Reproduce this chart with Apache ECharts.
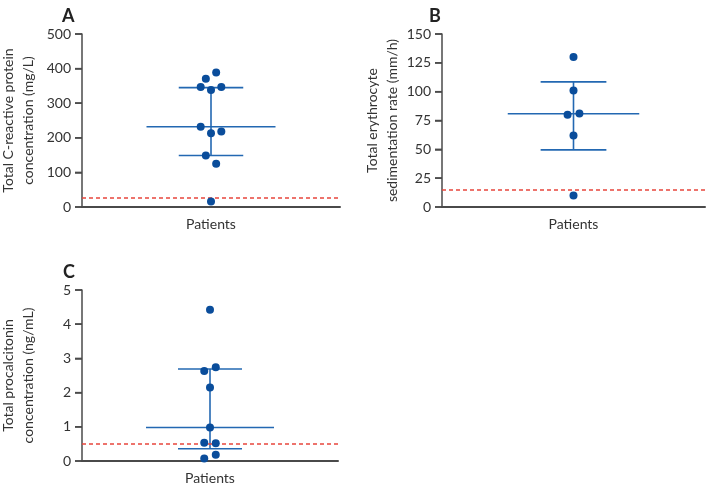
<!DOCTYPE html>
<html>
<head>
<meta charset="utf-8">
<script src="https://cdn.jsdelivr.net/npm/echarts@6/dist/echarts.min.js"></script>
<style>html,body{margin:0;padding:0;background:#fff}#c{width:708px;height:489px}</style>
</head>
<body>
<div id="c"></div>
<script>
// Panel A: C-reactive protein (mg/L)
const crpValues = [389, 371, 347, 338, 347, 232, 213, 218, 149, 125, 16];
const crpJitter = [0.04, -0.04, -0.08, 0, 0.08, -0.08, 0, 0.08, -0.04, 0.04, 0];
const crpSummary = [149, 232, 345]; // lower, median, upper
const crpRef = 28;
const crpTicks = [0, 500, 100];

// Panel B: erythrocyte sedimentation rate (mm/h)
const esrValues = [130, 101, 80, 81, 62, 10];
const esrJitter = [0, 0, -0.045, 0.045, 0, 0];
const esrSummary = [49.5, 80.8, 108.5];
const esrRef = 15;
const esrTicks = [0, 150, 25];

// Panel C: procalcitonin (ng/mL)
const pctValues = [4.42, 2.63, 2.74, 2.15, 0.98, 0.53, 0.52, 0.18, 0.07];
const pctJitter = [0, -0.045, 0.045, 0, 0, -0.045, 0.045, 0.045, -0.045];
const pctSummary = [0.36, 0.98, 2.69];
const pctRef = 0.5;
const pctTicks = [0, 5, 1];

const panelLetters = ['A', 'B', 'C'];
const yTitles = [
  'Total C-reactive protein\nconcentration (mg/L)',
  'Total erythrocyte\nsedimentation rate (mm/h)',
  'Total procalcitonin\nconcentration (ng/mL)'
];
const xTitle = 'Patients';

const FONT = 'Lato';
const DOT = '#0a4d9b';
const BAR = '#2368b2';
const RED = '#e8453c';
const AXIS = '#4a4a4a';
const CENTER = 1; // category position on the hidden x scale [0, 2]

const grids = [
  {left: 82, top: 34, width: 258, height: 173},
  {left: 442, top: 34, width: 263, height: 173},
  {left: 82, top: 290, width: 256, height: 171}
].map(g => Object.assign(g, {outerBoundsMode: 'none', containLabel: false}));
const nameGaps = [44, 36, 44];
const ticks = [crpTicks, esrTicks, pctTicks];
const sets = [
  [crpValues, crpJitter, crpSummary, crpRef],
  [esrValues, esrJitter, esrSummary, esrRef],
  [pctValues, pctJitter, pctSummary, pctRef]
];

const xAxes = grids.map((g, i) => ({
  gridIndex: i, type: 'value', min: 0, max: 2,
  axisLine: {show: true, onZero: false, lineStyle: {color: AXIS, width: 2}},
  axisTick: {show: false}, axisLabel: {show: false}, splitLine: {show: false},
  name: xTitle, nameLocation: 'middle', nameGap: 10,
  nameTextStyle: {fontFamily: FONT, fontSize: 14, color: '#333', verticalAlign: 'top'}
}));
const yAxes = grids.map((g, i) => ({
  gridIndex: i, type: 'value', position: 'left', min: ticks[i][0], max: ticks[i][1], interval: ticks[i][2],
  axisLine: {show: true, onZero: false, lineStyle: {color: AXIS, width: 1.5}},
  axisTick: {show: true, inside: false, length: 7, lineStyle: {color: AXIS, width: 1.5}},
  axisLabel: {show: true, fontFamily: FONT, fontSize: 14, color: '#333', margin: 11},
  splitLine: {show: false},
  name: yTitles[i], nameLocation: 'middle', nameGap: nameGaps[i],
  nameTextStyle: {fontFamily: FONT, fontSize: 14, color: '#333', lineHeight: 20, align: 'center'}
}));

const series = [];
sets.forEach((s, i) => {
  const [vals, jit, sum, ref] = s;
  const [lo, med, hi] = sum;
  const c = CENTER;
  const segs = [
    [[c - 0.5, med], [c + 0.5, med]],
    [[c - 0.25, hi], [c + 0.25, hi]],
    [[c - 0.25, lo], [c + 0.25, lo]],
    [[c, lo], [c, hi]]
  ];
  segs.forEach(seg => series.push({
    type: 'line', xAxisIndex: i, yAxisIndex: i, data: seg,
    symbol: 'none', lineStyle: {color: BAR, width: 1.6}, silent: true, z: 2
  }));
  series.push({
    type: 'line', xAxisIndex: i, yAxisIndex: i, data: [], silent: true,
    markLine: {
      silent: true, symbol: ['none', 'none'], label: {show: false},
      lineStyle: {color: RED, type: [4, 3], width: 1.5},
      data: [{yAxis: ref}]
    }
  });
  // outward tick marks on the y axis
  const [tmin, tmax, tstep] = ticks[i];
  const tickVals = [];
  for (let k = 0; tmin + k * tstep <= tmax + 1e-9; k++) tickVals.push(tmin + k * tstep);
  series.push({
    type: 'scatter', xAxisIndex: i, yAxisIndex: i, silent: true, clip: false,
    data: tickVals.map(v => [0, v]),
    symbol: 'rect', symbolSize: [7, 1.5], symbolOffset: [-3.5, 0],
    itemStyle: {color: AXIS, opacity: 1}, z: 3
  });
  series.push({
    type: 'scatter', xAxisIndex: i, yAxisIndex: i,
    data: vals.map((v, k) => [c + jit[k], v]),
    symbol: 'circle', symbolSize: 8, itemStyle: {color: DOT, opacity: 1}, z: 5
  });
});

const chart = echarts.init(document.getElementById('c'), null, {renderer: 'canvas'});
chart.setOption({
  animation: false,
  backgroundColor: '#fff',
  title: [
    {text: panelLetters[0], left: 57, top: 2},
    {text: panelLetters[1], left: 424, top: 2},
    {text: panelLetters[2], left: 58, top: 258}
  ].map(t => Object.assign(t, {textStyle: {fontFamily: FONT, fontSize: 18, fontWeight: 'bold', color: '#222'}})),
  grid: grids,
  xAxis: xAxes,
  yAxis: yAxes,
  series: series
});
</script>
</body>
</html>
